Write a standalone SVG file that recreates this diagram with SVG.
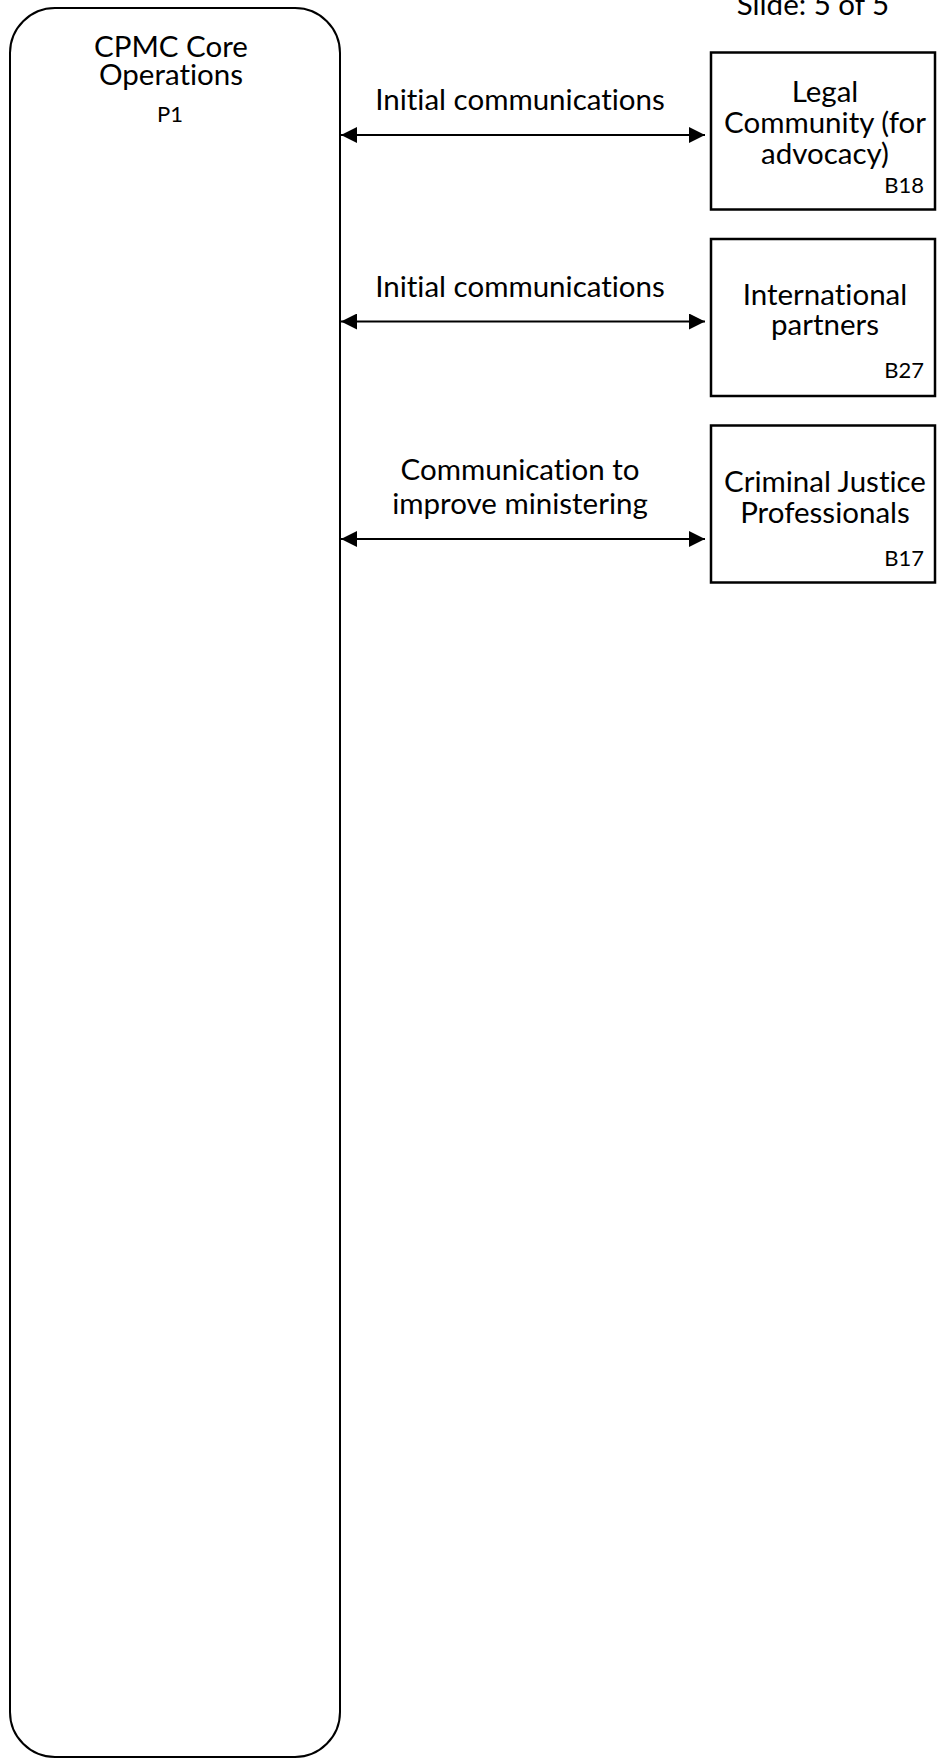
<svg xmlns="http://www.w3.org/2000/svg" width="947" height="1758" viewBox="0 0 947 1758">
<style>
.t{font-family:Lato,"Liberation Sans",sans-serif;font-size:29.5px;fill:#000;text-anchor:middle;font-variant-ligatures:none}
.s{font-family:Lato,"Liberation Sans",sans-serif;font-size:22px;fill:#000}
.box{fill:#fff;stroke:#000;stroke-width:2.5}
.pool{fill:#fff;stroke:#000;stroke-width:2}
.con{stroke:#000;stroke-width:2;fill:none;marker-start:url(#ah);marker-end:url(#ah)}
</style>
<defs>
<marker id="ah" viewBox="0 0 16 16" refX="16" refY="8" markerWidth="16" markerHeight="16" markerUnits="userSpaceOnUse" orient="auto-start-reverse">
<path d="M0,0 L16,8 L0,16 Z" fill="#000"/>
</marker>
</defs>
<rect width="947" height="1758" fill="#fff"/>
<text class="t" x="813" y="15">Slide: 5 of 5</text>
<g id="P1">
<rect class="pool" x="10" y="8" width="330" height="1749" rx="45" ry="45"/>
<text class="t" x="171" y="57">CPMC Core</text>
<text class="t" x="171" y="85">Operations</text>
<text class="s" x="170" y="122" text-anchor="middle">P1</text>
</g>
<g id="B18">
<rect class="box" x="711" y="52.5" width="224" height="157"/>
<text class="t" x="825" y="102">Legal</text>
<text class="t" x="825" y="133">Community (for</text>
<text class="t" x="825" y="164">advocacy)</text>
<text class="s" x="924" y="193" text-anchor="end">B18</text>
</g>
<g id="B27">
<rect class="box" x="711" y="239" width="224" height="157"/>
<text class="t" x="825" y="305">International</text>
<text class="t" x="825" y="335">partners</text>
<text class="s" x="924" y="378" text-anchor="end">B27</text>
</g>
<g id="B17">
<rect class="box" x="711" y="425.5" width="224" height="157"/>
<text class="t" x="825" y="492">Criminal Justice</text>
<text class="t" x="825" y="523">Professionals</text>
<text class="s" x="924" y="566" text-anchor="end">B17</text>
</g>
<g id="connectors">
<path class="con" d="M341,135 H705"/>
<path class="con" d="M341,321.5 H705"/>
<path class="con" d="M341,539 H705"/>
<text class="t" x="520" y="110">Initial communications</text>
<text class="t" x="520" y="297">Initial communications</text>
<text class="t" x="520" y="480">Communication to</text>
<text class="t" x="520" y="514">improve ministering</text>
</g>
</svg>
